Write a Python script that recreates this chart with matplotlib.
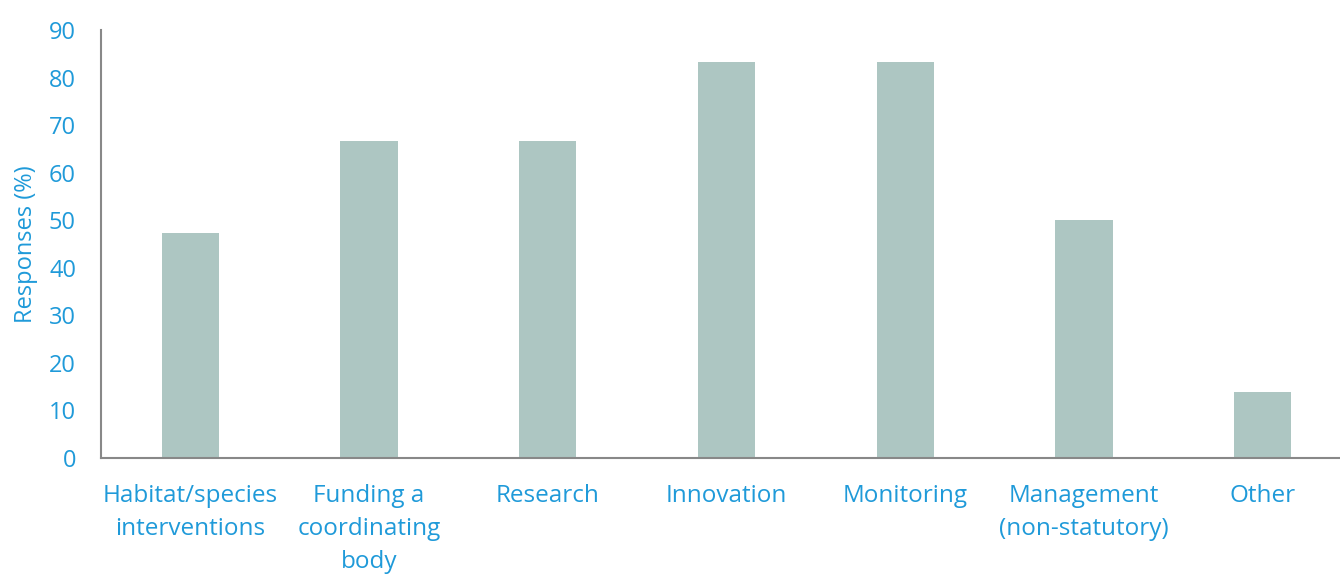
import matplotlib
matplotlib.use('Agg')
import matplotlib.pyplot as plt
import numpy as np

plt.rcParams['font.family'] = ['Open Sans', 'DejaVu Sans']

categories = ['Habitat/species\ninterventions', 'Funding a\ncoordinating\nbody', 'Research',
              'Innovation', 'Monitoring', 'Management\n(non-statutory)', 'Other']
responses = [47.3, 66.7, 66.7, 83.3, 83.3, 50.0, 13.8]

blue = '#1f9ad9'
bar_col = '#adc6c2'

fig = plt.figure(figsize=(13.4, 5.75), dpi=100)
ax = fig.add_axes([101/1340, 117/575, 1251/1340, 428/575])

x = np.arange(len(categories))
ax.bar(x, responses, width=0.32, color=bar_col)

ax.set_xlim(-0.5, 6.5)
ax.set_ylim(0, 90)
ax.set_yticks(range(0, 91, 10))
ax.set_xticks(x)
ax.set_xticklabels(categories, linespacing=1.5)
ax.tick_params(axis='y', length=0, labelsize=17, labelcolor=blue, pad=18)
ax.tick_params(axis='x', length=0, labelsize=17.5, labelcolor=blue, pad=19)
ax.set_ylabel('Responses (%)', color=blue, fontsize=17, labelpad=8)

for s in ['top', 'right']:
    ax.spines[s].set_visible(False)
for s in ['left', 'bottom']:
    ax.spines[s].set_color('#888888')
    ax.spines[s].set_linewidth(1.5)

fig.savefig('out.png', dpi=100)
